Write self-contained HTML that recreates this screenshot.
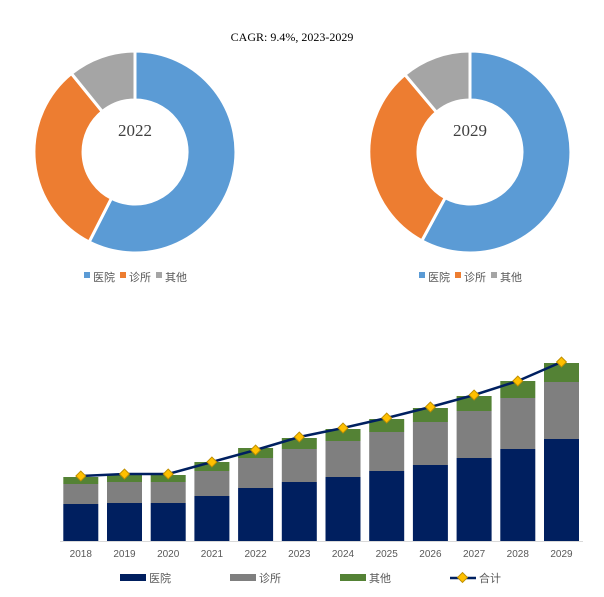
<!DOCTYPE html>
<html><head><meta charset="utf-8"><style>
body{margin:0;background:#fff;width:604px;height:597px;overflow:hidden}
svg{display:block}
text{font-family:"Liberation Sans","Noto Sans CJK SC",sans-serif}
</style></head><body>
<svg width="604" height="597" viewBox="0 0 604 597" xmlns="http://www.w3.org/2000/svg">
<text x="292" y="41" font-size="12" text-anchor="middle" fill="#000" style="font-family:'Liberation Serif',serif">CAGR: 9.4%, 2023-2029</text>
<g stroke="#fff" stroke-width="3">
<path d="M135 51 A101 101 0 1 1 89.1 242 L111.4 198.3 A52 52 0 1 0 135 100 Z" fill="#5b9bd5"/>
<path d="M89.1 242 A101 101 0 0 1 71.4 73.5 L102.3 111.6 A52 52 0 0 0 111.4 198.3 Z" fill="#ed7d31"/>
<path d="M71.4 73.5 A101 101 0 0 1 135 51 L135 100 A52 52 0 0 0 102.3 111.6 Z" fill="#a5a5a5"/>
</g>
<text x="135" y="136" font-size="17" text-anchor="middle" fill="#404040" style="font-family:'Liberation Serif',serif">2022</text>
<g stroke="#fff" stroke-width="3">
<path d="M470 51 A101 101 0 1 1 421.8 240.8 L445.2 197.7 A52 52 0 1 0 470 100 Z" fill="#5b9bd5"/>
<path d="M421.8 240.8 A101 101 0 0 1 404.9 74.6 L436.5 112.2 A52 52 0 0 0 445.2 197.7 Z" fill="#ed7d31"/>
<path d="M404.9 74.6 A101 101 0 0 1 470 51 L470 100 A52 52 0 0 0 436.5 112.2 Z" fill="#a5a5a5"/>
</g>
<text x="470" y="136" font-size="17" text-anchor="middle" fill="#404040" style="font-family:'Liberation Serif',serif">2029</text>
<g font-size="11" fill="#595959">
<rect x="84" y="272" width="6" height="6" fill="#5b9bd5"/><text x="93" y="281">医院</text>
<rect x="120" y="272" width="6" height="6" fill="#ed7d31"/><text x="129" y="281">诊所</text>
<rect x="156" y="272" width="6" height="6" fill="#a5a5a5"/><text x="165" y="281">其他</text>
<rect x="419" y="272" width="6" height="6" fill="#5b9bd5"/><text x="428" y="281">医院</text>
<rect x="455" y="272" width="6" height="6" fill="#ed7d31"/><text x="464" y="281">诊所</text>
<rect x="491" y="272" width="6" height="6" fill="#a5a5a5"/><text x="500" y="281">其他</text>
</g>
<g>
<rect x="63.3" y="477" width="35" height="7" fill="#548235"/><rect x="63.3" y="484" width="35" height="20" fill="#7f7f7f"/><rect x="63.3" y="504" width="35" height="37" fill="#001f5f"/>
<rect x="107" y="475" width="35" height="7" fill="#548235"/><rect x="107" y="482" width="35" height="21" fill="#7f7f7f"/><rect x="107" y="503" width="35" height="38" fill="#001f5f"/>
<rect x="150.7" y="475" width="35" height="7" fill="#548235"/><rect x="150.7" y="482" width="35" height="21" fill="#7f7f7f"/><rect x="150.7" y="503" width="35" height="38" fill="#001f5f"/>
<rect x="194.4" y="462" width="35" height="9" fill="#548235"/><rect x="194.4" y="471" width="35" height="25" fill="#7f7f7f"/><rect x="194.4" y="496" width="35" height="45" fill="#001f5f"/>
<rect x="238.1" y="448" width="35" height="10" fill="#548235"/><rect x="238.1" y="458" width="35" height="30" fill="#7f7f7f"/><rect x="238.1" y="488" width="35" height="53" fill="#001f5f"/>
<rect x="281.8" y="438" width="35" height="11" fill="#548235"/><rect x="281.8" y="449" width="35" height="33" fill="#7f7f7f"/><rect x="281.8" y="482" width="35" height="59" fill="#001f5f"/>
<rect x="325.5" y="429" width="35" height="12" fill="#548235"/><rect x="325.5" y="441" width="35" height="36" fill="#7f7f7f"/><rect x="325.5" y="477" width="35" height="64" fill="#001f5f"/>
<rect x="369.2" y="419" width="35" height="13" fill="#548235"/><rect x="369.2" y="432" width="35" height="39" fill="#7f7f7f"/><rect x="369.2" y="471" width="35" height="70" fill="#001f5f"/>
<rect x="412.9" y="408" width="35" height="14" fill="#548235"/><rect x="412.9" y="422" width="35" height="43" fill="#7f7f7f"/><rect x="412.9" y="465" width="35" height="76" fill="#001f5f"/>
<rect x="456.6" y="396" width="35" height="15" fill="#548235"/><rect x="456.6" y="411" width="35" height="47" fill="#7f7f7f"/><rect x="456.6" y="458" width="35" height="83" fill="#001f5f"/>
<rect x="500.3" y="381" width="35" height="17" fill="#548235"/><rect x="500.3" y="398" width="35" height="51" fill="#7f7f7f"/><rect x="500.3" y="449" width="35" height="92" fill="#001f5f"/>
<rect x="544" y="363" width="35" height="19" fill="#548235"/><rect x="544" y="382" width="35" height="57" fill="#7f7f7f"/><rect x="544" y="439" width="35" height="102" fill="#001f5f"/>
</g>
<polyline points="80.8,476 124.5,474 168.2,474 211.9,462 255.6,450 299.3,437 343,428 386.7,418 430.4,407 474.1,395 517.8,381 561.5,362" fill="none" stroke="#002060" stroke-width="2.5"/>
<g fill="#ffc000" stroke="#bf8f00">
<rect x="77.3" y="472.5" width="7" height="7" transform="rotate(45 80.8 476)"/>
<rect x="121" y="470.5" width="7" height="7" transform="rotate(45 124.5 474)"/>
<rect x="164.7" y="470.5" width="7" height="7" transform="rotate(45 168.2 474)"/>
<rect x="208.4" y="458.5" width="7" height="7" transform="rotate(45 211.9 462)"/>
<rect x="252.1" y="446.5" width="7" height="7" transform="rotate(45 255.6 450)"/>
<rect x="295.8" y="433.5" width="7" height="7" transform="rotate(45 299.3 437)"/>
<rect x="339.5" y="424.5" width="7" height="7" transform="rotate(45 343 428)"/>
<rect x="383.2" y="414.5" width="7" height="7" transform="rotate(45 386.7 418)"/>
<rect x="426.9" y="403.5" width="7" height="7" transform="rotate(45 430.4 407)"/>
<rect x="470.6" y="391.5" width="7" height="7" transform="rotate(45 474.1 395)"/>
<rect x="514.3" y="377.5" width="7" height="7" transform="rotate(45 517.8 381)"/>
<rect x="558" y="358.5" width="7" height="7" transform="rotate(45 561.5 362)"/>
</g>
<line x1="60" y1="541.5" x2="583" y2="541.5" stroke="#d9d9d9"/>
<g font-size="10" fill="#595959" text-anchor="middle">
<text x="80.8" y="557">2018</text><text x="124.5" y="557">2019</text><text x="168.2" y="557">2020</text><text x="211.9" y="557">2021</text><text x="255.6" y="557">2022</text><text x="299.3" y="557">2023</text><text x="343" y="557">2024</text><text x="386.7" y="557">2025</text><text x="430.4" y="557">2026</text><text x="474.1" y="557">2027</text><text x="517.8" y="557">2028</text><text x="561.5" y="557">2029</text>
</g>
<g font-size="11" fill="#595959">
<rect x="120" y="574" width="26" height="7" fill="#001f5f"/><text x="149" y="582">医院</text>
<rect x="230" y="574" width="26" height="7" fill="#7f7f7f"/><text x="259" y="582">诊所</text>
<rect x="340" y="574" width="26" height="7" fill="#548235"/><text x="369" y="582">其他</text>
<line x1="450" y1="578" x2="476" y2="578" stroke="#002060" stroke-width="2.5"/>
<rect x="459" y="574" width="7" height="7" fill="#ffc000" stroke="#bf8f00" transform="rotate(45 462.5 577.5)"/>
<text x="479" y="582">合计</text>
</g>
</svg>
</body></html>
